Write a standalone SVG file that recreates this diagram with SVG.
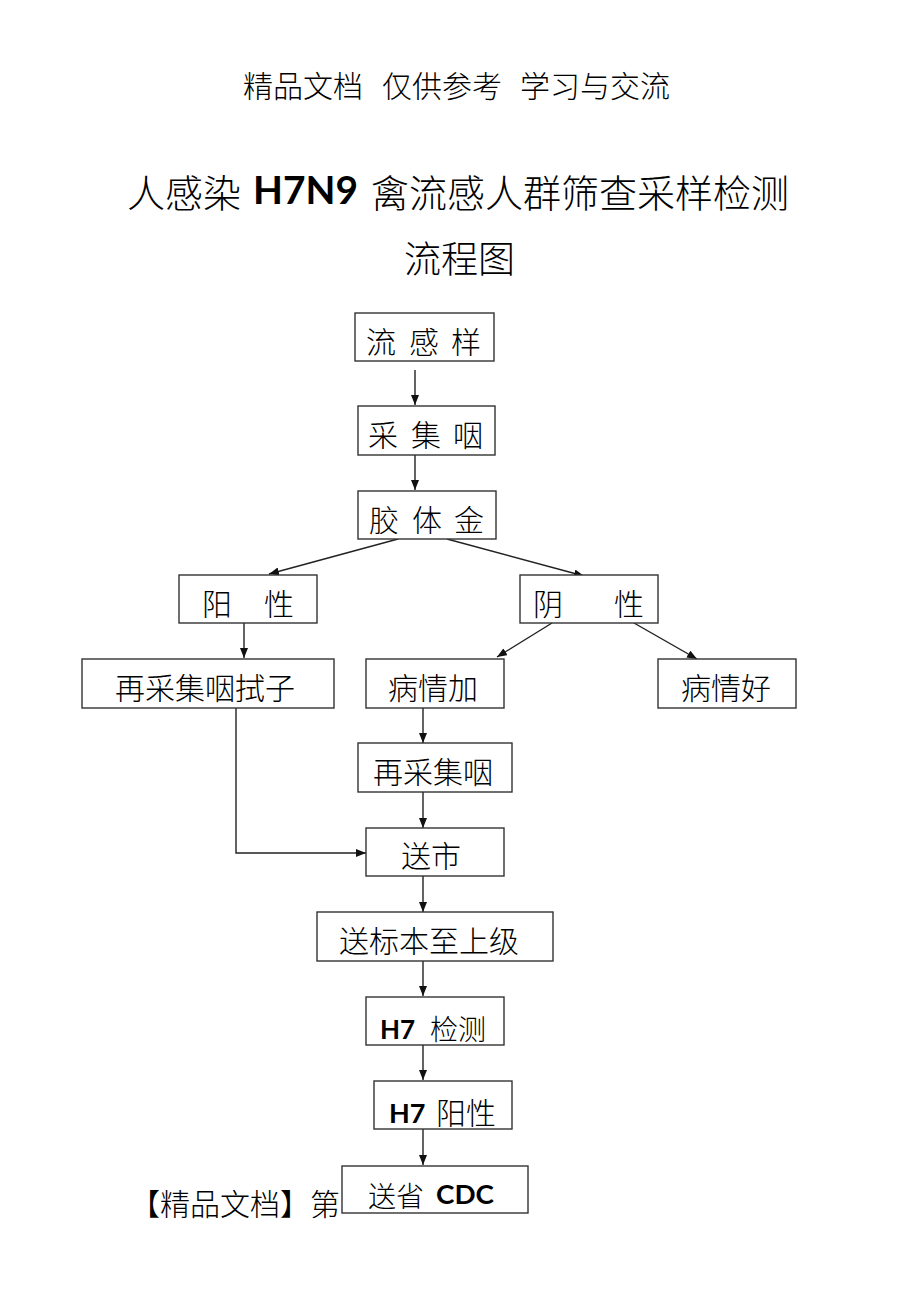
<svg xmlns="http://www.w3.org/2000/svg" width="920" height="1302" viewBox="0 0 920 1302">
<defs>
<style>
.cjk{font-family:"Noto Sans CJK SC","Noto Sans CJK JP",sans-serif;font-weight:300;fill:#000}
.lat{font-family:Lato,"DejaVu Sans",sans-serif;font-weight:700;fill:#000}
.box{fill:#fff;stroke:#333;stroke-width:1.4}
.ln{fill:none;stroke:#222;stroke-width:1.4}
</style>
<marker id="ah" viewBox="0 0 10 8" refX="10" refY="4" markerWidth="10" markerHeight="8" markerUnits="userSpaceOnUse" orient="auto">
<path d="M0,0 L10,4 L0,8 Z" fill="#111"/>
</marker>
</defs>
<rect width="920" height="1302" fill="#fff"/>
<g id="header">
<text class="cjk" font-size="30" y="97"><tspan x="243">精品文档</tspan><tspan x="382">仅供参考</tspan><tspan x="520">学习与交流</tspan></text>
</g>
<g id="title">
<text class="cjk" font-size="38" x="127" y="207">人感染</text>
<text class="lat" font-size="39" x="253" y="204" textLength="105" lengthAdjust="spacingAndGlyphs">H7N9</text>
<text class="cjk" font-size="38" x="371" y="207">禽流感人群筛查采样检测</text>
<text class="cjk" font-size="37" x="404" y="273">流程图</text>
</g>
<g id="footer">
<text class="cjk" font-size="30" x="130" y="1215">【精品文档】第</text>
</g>
<g id="connectors">
<line class="ln" x1="415" y1="370" x2="415" y2="405" marker-end="url(#ah)"/>
<line class="ln" x1="415" y1="455" x2="415" y2="490" marker-end="url(#ah)"/>
<line class="ln" x1="398" y1="539" x2="269" y2="574" marker-end="url(#ah)"/>
<line class="ln" x1="447" y1="539" x2="584" y2="576" marker-end="url(#ah)"/>
<line class="ln" x1="244" y1="623" x2="244" y2="658" marker-end="url(#ah)"/>
<line class="ln" x1="552" y1="623" x2="497" y2="657" marker-end="url(#ah)"/>
<line class="ln" x1="634" y1="623" x2="697" y2="659" marker-end="url(#ah)"/>
<polyline class="ln" points="236,708 236,853 366,853" marker-end="url(#ah)"/>
<line class="ln" x1="423" y1="708" x2="423" y2="743" marker-end="url(#ah)"/>
<line class="ln" x1="423" y1="792" x2="423" y2="828" marker-end="url(#ah)"/>
<line class="ln" x1="423" y1="876" x2="423" y2="912" marker-end="url(#ah)"/>
<line class="ln" x1="423" y1="961" x2="423" y2="996" marker-end="url(#ah)"/>
<line class="ln" x1="423" y1="1045" x2="423" y2="1080" marker-end="url(#ah)"/>
<line class="ln" x1="423" y1="1129" x2="423" y2="1165" marker-end="url(#ah)"/>
</g>
<g id="n1"><rect class="box" x="355" y="313" width="139" height="48"/>
<text class="cjk" font-size="30" y="353"><tspan x="366">流</tspan><tspan x="409">感</tspan><tspan x="451">样</tspan></text></g>
<g id="n2"><rect class="box" x="358" y="406" width="137" height="49"/>
<text class="cjk" font-size="30" y="446"><tspan x="368">采</tspan><tspan x="411">集</tspan><tspan x="453">咽</tspan></text></g>
<g id="n3"><rect class="box" x="358" y="491" width="138" height="48"/>
<text class="cjk" font-size="30" y="531"><tspan x="369">胶</tspan><tspan x="412">体</tspan><tspan x="454">金</tspan></text></g>
<g id="n4"><rect class="box" x="179" y="575" width="138" height="48"/>
<text class="cjk" font-size="30" y="615"><tspan x="202">阳</tspan><tspan x="264">性</tspan></text></g>
<g id="n5"><rect class="box" x="520" y="575" width="138" height="48"/>
<text class="cjk" font-size="30" y="615"><tspan x="533">阴</tspan><tspan x="614">性</tspan></text></g>
<g id="n6"><rect class="box" x="82" y="659" width="252" height="49"/>
<text class="cjk" font-size="30" x="115" y="699">再采集咽拭子</text></g>
<g id="n7"><rect class="box" x="366" y="659" width="138" height="49"/>
<text class="cjk" font-size="30" x="388" y="699">病情加</text></g>
<g id="n8"><rect class="box" x="658" y="659" width="138" height="49"/>
<text class="cjk" font-size="30" x="681" y="699">病情好</text></g>
<g id="n9"><rect class="box" x="358" y="743" width="154" height="49"/>
<text class="cjk" font-size="30" x="373" y="783">再采集咽</text></g>
<g id="n10"><rect class="box" x="366" y="828" width="138" height="48"/>
<text class="cjk" font-size="30" x="401" y="867">送市</text></g>
<g id="n11"><rect class="box" x="317" y="912" width="236" height="49"/>
<text class="cjk" font-size="30" x="339" y="952">送标本至上级</text></g>
<g id="n12"><rect class="box" x="366" y="997" width="138" height="48"/>
<text class="lat" font-size="26" x="380" y="1039">H7</text>
<text class="cjk" font-size="28" x="430" y="1040">检测</text></g>
<g id="n13"><rect class="box" x="374" y="1081" width="138" height="48"/>
<text class="lat" font-size="27" x="389" y="1123">H7</text>
<text class="cjk" font-size="30" x="436" y="1124">阳性</text></g>
<g id="n14"><rect class="box" x="342" y="1166" width="186" height="47"/>
<text class="cjk" font-size="28" x="368" y="1207">送省</text>
<text class="lat" font-size="26" x="436" y="1204" textLength="58" lengthAdjust="spacingAndGlyphs">CDC</text></g>
</svg>
